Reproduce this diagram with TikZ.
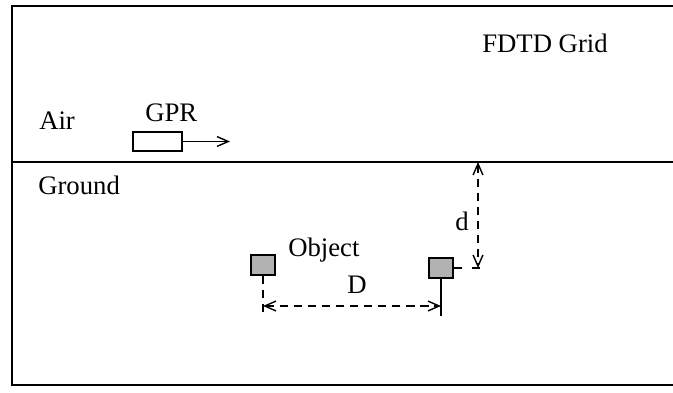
\documentclass[tikz,border=0pt]{standalone}
\usepackage{fontspec}
\setmainfont{Liberation Serif}
\usetikzlibrary{arrows.meta}
\tikzset{
  txt/.style={font=\fontsize{19}{22}\selectfont, inner sep=0pt, anchor=base west},
  objbox/.style={draw, line width=1.1pt, fill=black!30, minimum width=0.6cm, minimum height=0.5cm, inner sep=0pt},
  barb/.tip={Straight Barb[length=8pt,width=7pt,line width=1pt]},
  dimline/.style={line width=1pt, dash pattern=on 6pt off 4pt, barb-barb}
}
\begin{document}
\begin{tikzpicture}[x=0.025cm, y=-0.025cm]
  \useasboundingbox (0,0) rectangle (673,393);
  % grid frame, open on the right
  \draw[line width=1.6pt] (673,6) -- (12,6) -- (12,385) -- (673,385);
  \draw[line width=1.4pt] (12,162) coordinate (surfL) -- (673,162) coordinate (surfR);
  \node[txt] (grid) at (482,53) {FDTD Grid};
  \node[txt] (air) at (39,130) {Air};
  \node[txt] (ground) at (38,195) {Ground};
  % radar and its direction of travel
  \node[txt] (gprlabel) at (145,122) {GPR};
  \node[draw, line width=1pt, minimum width=1.225cm, minimum height=0.475cm, inner sep=0pt] (gpr) at (157.5,141.5) {};
  \coordinate (move) at (230,141.5);
  \draw[line width=1pt, -barb] (gpr.east) -- (move);
  % buried objects
  \node[objbox] (obj1) at (263,265) {};
  \node[objbox] (obj2) at (441,268) {};
  \node[txt] (objlabel) at (288,257) {Object};
  % spacing D
  \coordinate (Dl) at (263,314);
  \coordinate (Dr) at (441,316);
  \coordinate (Da) at (263,306);
  \coordinate (Db) at (441,306);
  \draw[line width=1pt, dash pattern=on 6pt off 4pt] (obj1.south) -- (Dl);
  \draw[line width=1pt] (obj2.south) -- (Dr);
  \draw[dimline] (Da) -- (Db);
  \node[txt] (Dlabel) at (347,294) {D};
  % depth d
  \coordinate (dtop) at (478,162);
  \coordinate (dbot) at (478,268);
  \coordinate (dext) at (485,268);
  \draw[line width=1pt, dash pattern=on 6pt off 7pt] (obj2.east) -- (dext);
  \draw[dimline] (dtop) -- (dbot);
  \node[txt] (dlabel) at (455,231) {d};
\end{tikzpicture}
\end{document}
